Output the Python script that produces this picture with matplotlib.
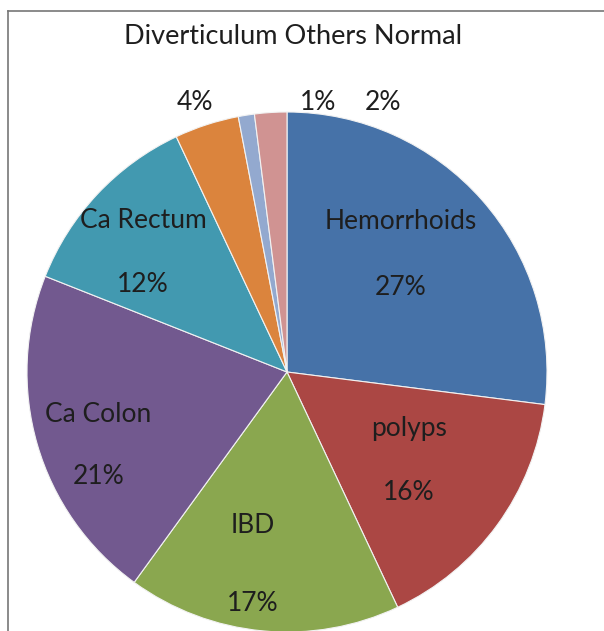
import numpy as np
import matplotlib.pyplot as plt

categories = ["Hemorrhoids", "polyps", "IBD", "Ca Colon", "Ca Rectum",
              "Diverticulum", "Others", "Normal"]
values = [27, 16, 17, 21, 12, 4, 1, 2]
colors = ["#4672A8", "#AB4744", "#8AA74F", "#72598F", "#4299B0",
          "#DB843D", "#93A9CF", "#D09392"]
explode = [0, 0, 0, 0, 0, 0.03, 0, 0]

fig = plt.figure(figsize=(6.04, 6.31), dpi=100)
ax = fig.add_axes([0, 0, 1, 1])
ax.set_xlim(0, 604)
ax.set_ylim(0, 631)
ax.set_aspect("equal")
ax.axis("off")
plt.rcParams["font.family"] = ["Lato", "DejaVu Sans"]

cx, cy, R = 287, 259, 260
wedges, _ = ax.pie(values, colors=colors, startangle=90, counterclock=False,
                   center=(cx, cy), radius=R, explode=explode,
                   wedgeprops=dict(edgecolor="#F2F2F2", linewidth=0.8))
ax.set_xlim(0, 604)
ax.set_ylim(0, 631)

txt = "#1E1E1E"
fs = 19
# labels inside big slices: name above, percent below
dist = [0.63, 0.58, 0.75, 0.78, 0.72]
tweak = [4.6, 0, -4.6, 5.2, 3.4]
gap = [33, 32, 39, 31, 32]
for w, name, v, d, t, g in zip(wedges[:5], categories[:5], values[:5], dist, tweak, gap):
    a = np.deg2rad((w.theta1 + w.theta2) / 2 + t)
    x = cx + d * R * np.cos(a)
    y = cy + d * R * np.sin(a)
    ax.text(x, y + g, name, ha="center", va="center", fontsize=fs, color=txt)
    ax.text(x, y - g, f"{v}%", ha="center", va="center", fontsize=fs, color=txt)

# small slices: names across the top, percents above the pie
ax.text(293, 594, " ".join(categories[5:]),
        ha="center", va="center", fontsize=19.5, color=txt)
for v, x in zip(values[5:], [195, 318, 383]):
    ax.text(x, 529, f"{v}%", ha="center", va="center", fontsize=fs, color=txt)

# chart frame (top and left edges visible)
ax.plot([8, 8], [0, 620], color="#777777", lw=1.2)
ax.plot([8, 604], [620, 620], color="#777777", lw=1.2)

fig.savefig("out.png", dpi=100)
